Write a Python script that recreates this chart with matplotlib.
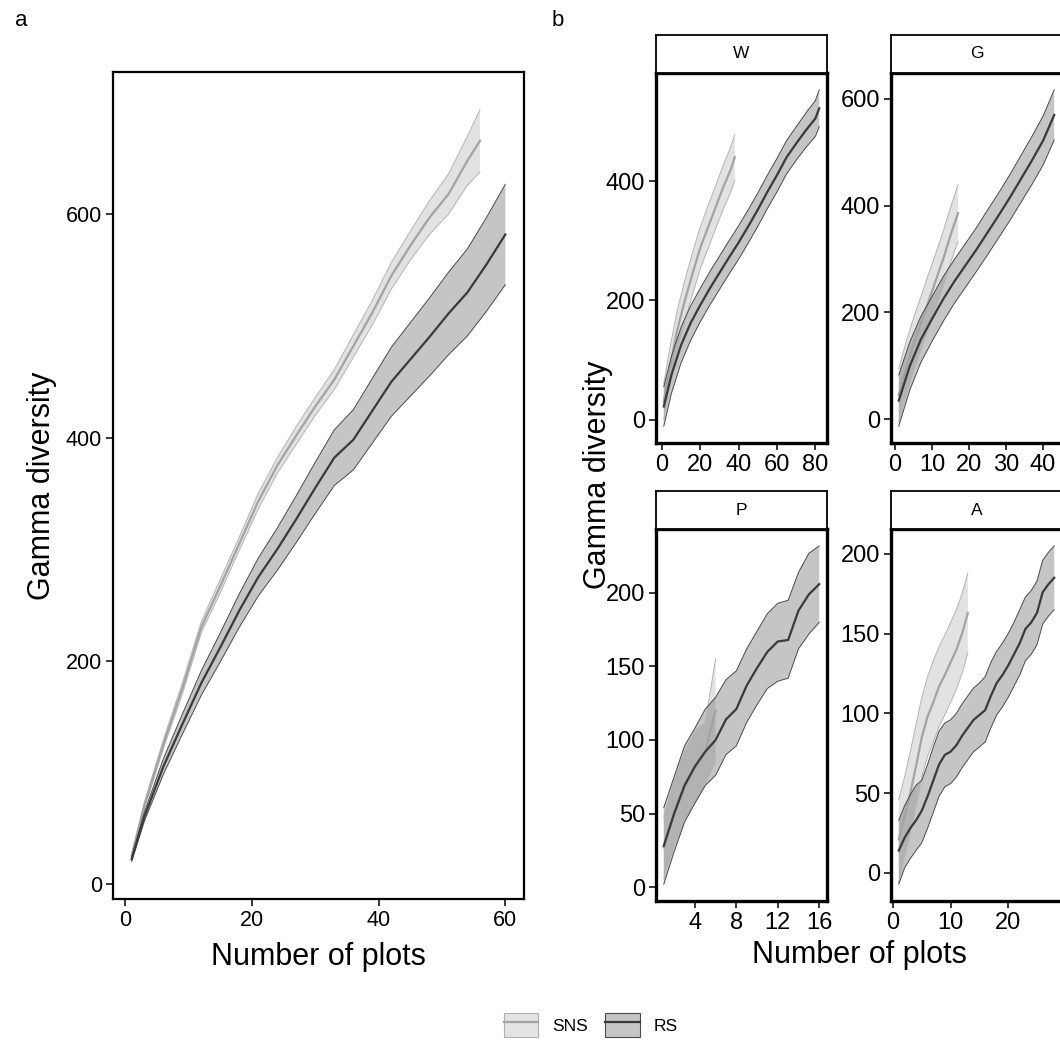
import numpy as np
import matplotlib
matplotlib.use('Agg')
import matplotlib.pyplot as plt
from matplotlib.patches import Patch
from matplotlib.lines import Line2D

plt.rcParams['font.family'] = ['Liberation Sans', 'DejaVu Sans']

# panel a: all plots together
a_sns_x = [1, 3, 6, 9, 12, 15, 18, 21, 24, 27, 30, 33, 36, 39, 42, 45, 48, 51, 54, 56]
a_sns_m = [25, 70, 125, 175, 230, 267, 305, 343, 375, 402, 428, 452, 482, 512, 545, 572, 597, 618, 648, 666]
a_sns_w = [2, 3, 4, 5, 5, 6, 6, 7, 7, 8, 8, 9, 10, 11, 12, 13, 15, 18, 22, 28]
a_rs_x = [1, 3, 6, 9, 12, 15, 18, 21, 24, 27, 30, 33, 36, 39, 42, 45, 48, 51, 54, 57, 60]
a_rs_m = [22, 60, 105, 143, 180, 212, 245, 275, 300, 327, 355, 382, 398, 424, 450, 470, 490, 511, 530, 555, 582]
a_rs_w = [2, 4, 7, 9, 11, 13, 15, 17, 19, 21, 23, 25, 27, 29, 31, 33, 35, 37, 39, 42, 45]

# panel b: W
w_rs_x = [1, 5, 10, 15, 20, 25, 30, 35, 40, 45, 50, 55, 60, 65, 70, 75, 80, 82]
w_rs_m = [22, 75, 125, 162, 192, 220, 246, 272, 297, 324, 352, 382, 410, 440, 463, 485, 505, 522]
w_rs_w = [33, 31, 30, 29, 28, 28, 28, 28, 28, 28, 28, 28, 28, 28, 28, 29, 30, 31]
w_sns_x = [1, 4, 8, 12, 16, 20, 24, 28, 32, 36, 38]
w_sns_m = [30, 85, 150, 200, 245, 288, 322, 356, 390, 420, 440]
w_sns_w = [30, 32, 33, 34, 35, 35, 36, 36, 37, 38, 38]

# G
g_rs_x = [1, 4, 7, 10, 13, 16, 19, 22, 25, 28, 31, 34, 37, 40, 43]
g_rs_m = [35, 100, 150, 188, 225, 258, 288, 318, 350, 382, 415, 450, 485, 522, 570]
g_rs_w = [48, 45, 43, 42, 42, 41, 41, 41, 42, 42, 43, 44, 45, 46, 47]
g_sns_x = [1, 3, 5, 7, 9, 11, 13, 15, 17]
g_sns_m = [45, 95, 140, 180, 220, 260, 300, 345, 386]
g_sns_w = [50, 50, 50, 50, 51, 51, 52, 52, 53]

# P
p_rs_x = list(range(1, 17))
p_rs_m = [28, 50, 69, 82, 92, 100, 114, 121, 137, 149, 160, 167, 168, 188, 199, 206]
p_rs_hi = [54, 75, 96, 108, 121, 129, 141, 147, 162, 174, 186, 193, 195, 214, 227, 232]
p_rs_lo = [2, 24, 44, 57, 69, 76, 90, 96, 112, 124, 135, 140, 142, 162, 172, 180]
p_sns_x = list(range(1, 7))
p_sns_m = [27, 50, 68, 81, 92, 120]
p_sns_hi = [48, 72, 92, 106, 112, 155]
p_sns_lo = [6, 28, 45, 57, 70, 85]

# A
a2_rs_x = list(range(1, 29))
a2_rs_m = [14, 22, 28, 33, 39, 48, 58, 68, 74, 76, 80, 86, 91, 96, 99, 102, 111, 119, 124, 130, 137, 144, 153, 157, 163, 176, 181, 185]
a2_rs_hi = [33, 42, 49, 55, 58, 68, 79, 89, 94, 96, 100, 106, 111, 116, 119, 123, 132, 139, 144, 150, 157, 165, 173, 177, 183, 196, 201, 205]
a2_rs_lo = [-7, 3, 9, 14, 19, 28, 38, 48, 54, 56, 60, 66, 71, 76, 79, 82, 91, 99, 104, 110, 117, 124, 133, 137, 143, 156, 161, 165]
a2_sns_x = list(range(1, 14))
a2_sns_m = [21, 35, 50, 67, 85, 98, 107, 117, 124, 132, 140, 150, 163]
a2_sns_hi = [46, 60, 76, 93, 110, 123, 133, 142, 149, 157, 165, 175, 188]
a2_sns_lo = [-6, 10, 25, 42, 60, 73, 82, 92, 99, 107, 115, 125, 138]

SNS = dict(fc=(0.6, 0.6, 0.6), alpha=0.28, ec='#b4b4b4', lc='#a3a3a3')
RS = dict(fc=(0.3, 0.3, 0.3), alpha=0.32, ec='#4a4a4a', lc='#3a3a3a')


def band(ax, x, m, lo, hi, st):
	x = np.array(x)
	ax.fill_between(x, lo, hi, facecolor=st['fc'], alpha=st['alpha'], lw=0)
	ax.plot(x, lo, color=st['ec'], lw=0.7)
	ax.plot(x, hi, color=st['ec'], lw=0.7)
	ax.plot(x, m, color=st['lc'], lw=1.6)


def band_w(ax, x, m, w, st):
	m = np.array(m)
	w = np.array(w)
	band(ax, x, m, m - w, m + w, st)


def style(ax, lw, fs):
	for s in ax.spines.values():
		s.set_linewidth(lw)
	ax.tick_params(direction='out', length=5, width=1.1, labelsize=fs, colors='black', pad=3)


fig = plt.figure(figsize=(10.6, 10.45), dpi=100)
W, H = 1060, 1045


def box(l, t, r, b):
	return [l / W, 1 - b / H, (r - l) / W, (b - t) / H]


# panel a
ax = fig.add_axes(box(113, 72, 524, 899))
band_w(ax, a_sns_x, a_sns_m, a_sns_w, SNS)
band_w(ax, a_rs_x, a_rs_m, a_rs_w, RS)
ax.set_xticks([0, 20, 40, 60])
ax.set_yticks([0, 200, 400, 600])
style(ax, 1.6, 15.5)
ax.set_xlabel('Number of plots', fontsize=22, labelpad=8)
ax.set_ylabel('Gamma diversity', fontsize=22, labelpad=6)
fig.text(15 / W, 1 - 20 / H, 'a', fontsize=16, va='center')
fig.text(552 / W, 1 - 20 / H, 'b', fontsize=16, va='center')

panels = [
	('W', box(656, 73, 827, 443), [0, 20, 40, 60, 80], [0, 200, 400]),
	('G', box(891, 73, 1062, 443), [0, 10, 20, 30, 40], [0, 200, 400, 600]),
	('P', box(656, 529, 827, 901), [4, 8, 12, 16], [0, 50, 100, 150, 200]),
	('A', box(891, 529, 1062, 901), [0, 10, 20], [0, 50, 100, 150, 200]),
]
axs = {}
for name, pos, xt, yt in panels:
	b = fig.add_axes(pos)
	axs[name] = b
	st = fig.add_axes([pos[0], pos[1] + pos[3], pos[2], 38 / H])
	st.set_xticks([])
	st.set_yticks([])
	for s in st.spines.values():
		s.set_linewidth(1.3)
	st.text(0.5, 0.5, name, ha='center', va='center', fontsize=12.5, transform=st.transAxes)

band_w(axs['W'], w_sns_x, w_sns_m, w_sns_w, SNS)
band_w(axs['W'], w_rs_x, w_rs_m, w_rs_w, RS)
band_w(axs['G'], g_sns_x, g_sns_m, g_sns_w, SNS)
band_w(axs['G'], g_rs_x, g_rs_m, g_rs_w, RS)
band(axs['P'], p_sns_x, p_sns_m, p_sns_lo, p_sns_hi, SNS)
band(axs['P'], p_rs_x, p_rs_m, p_rs_lo, p_rs_hi, RS)
band(axs['A'], a2_sns_x, a2_sns_m, a2_sns_lo, a2_sns_hi, SNS)
band(axs['A'], a2_rs_x, a2_rs_m, a2_rs_lo, a2_rs_hi, RS)

for name, pos, xt, yt in panels:
	b = axs[name]
	b.set_xticks(xt)
	b.set_yticks(yt)
	style(b, 2.4, 17)

fig.text(598 / W, 1 - 475 / H, 'Gamma diversity', fontsize=22, rotation=90, ha='center', va='center')
fig.text(859 / W, 1 - 955 / H, 'Number of plots', fontsize=22, ha='center', va='center')

hs = [(Patch(facecolor='#e3e3e3', edgecolor='#b0b0b0', lw=0.8), Line2D([], [], color=SNS['lc'], lw=1.6)),
	(Patch(facecolor='#c6c6c6', edgecolor='#4a4a4a', lw=0.8), Line2D([], [], color=RS['lc'], lw=1.6))]
fig.legend(hs, ['SNS', 'RS'], loc='center', bbox_to_anchor=(591 / W, 1 - 1025 / H), ncol=2,
	frameon=False, fontsize=12.5, handlelength=2.0, handleheight=1.7, columnspacing=1.0, handletextpad=0.8)

plt.savefig('out.png', dpi=100)
